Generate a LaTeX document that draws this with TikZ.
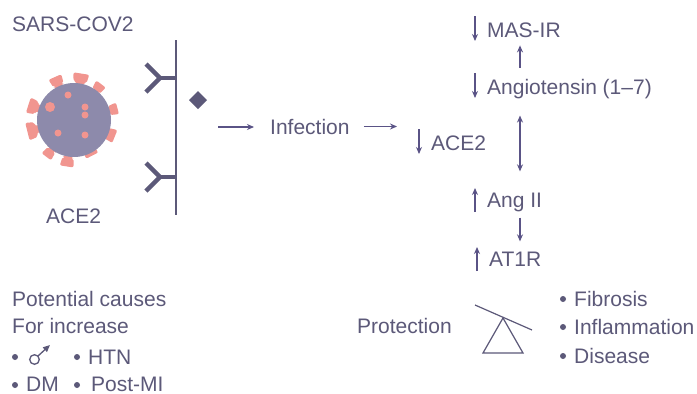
\documentclass[tikz,border=0pt]{standalone}
\usepackage{fontspec}
\setmainfont{Liberation Sans}
\usetikzlibrary{arrows.meta,calc}
\definecolor{ink}{HTML}{5C5979}
\definecolor{arrowink}{HTML}{5A5386}
\definecolor{virusbody}{HTML}{8D8AAB}
\definecolor{spike}{HTML}{F1958F}
\tikzset{
  lbl/.style={anchor=base west, inner sep=0pt, text=ink, font=\fontsize{21}{25}\selectfont},
  arr/.style={draw=arrowink, line width=1.6pt, -{Stealth[length=7pt,width=6pt]}},
  receptor/.style={draw=ink, line width=4.5pt},
  bullet/.style={fill=ink},
}
% small up/down marks left of a label
\def\dnmark#1{\draw[arr] ([shift={(-12pt,21pt)}]#1.base west) -- ([shift={(-12pt,-4pt)}]#1.base west);}
\def\upmark#1{\draw[arr] ([shift={(-12pt,-5pt)}]#1.base west) -- ([shift={(-12pt,19pt)}]#1.base west);}

\begin{document}
\begin{tikzpicture}[x=1pt,y=-1pt]
  %%%%% START %%%%%
  \fill[white] (0,0) rectangle (697,394);
  \useasboundingbox (0,0) rectangle (697,394);

  % virus
  \foreach \a/\w/\l in {114/7/47, 81/8/47, 53/6/45, 162/8/48, 15/6/45, 194/9/48, 338/7/44, 233/6/46, 297/7/40, 261/7/47}{
    \begin{scope}[shift={(74,120)}, rotate=\a]
      \fill[spike, rounded corners=2pt] (28,-3.5) -- (\l-9,-3.5) -- (\l-9,-\w+1.5) -- (\l,-\w)
        -- (\l,\w) -- (\l-9,\w-1.5) -- (\l-9,3.5) -- (28,3.5) -- cycle;
    \end{scope}
  }
  \fill[virusbody] (74,120) circle (37);
  \foreach \x/\y/\r in {68/95/3.5, 50/107/5, 85/107/3.5, 85/115/3.5, 58/133/3.5, 85/135/3.5}
    \fill[spike] (\x,\y) circle (\r);

  \node[lbl] (sars) at (12,31) {SARS-COV2};
  \node[lbl] (ace2cell) at (46,223) {ACE2};

  % membrane and receptors
  \draw[draw=ink, line width=2pt] (176,40) -- (176,215);
  \foreach \y in {78,177}{
    \draw[receptor] (176,\y) -- (160,\y);
    \draw[receptor] (146,\y-14) -- (160,\y) -- (146,\y+14);
  }
  \fill[ink] (198,91) -- (207,100) -- (198,109) -- (189,100) -- cycle;

  % infection path
  \node[lbl] (infection) at (270,134) {Infection};
  \node[lbl] (ace2) at (431,150) {ACE2};
  \coordinate (entry) at (218,127);
  \draw[arr, shorten >=16pt] (entry) -- (entry -| infection.west);
  \draw[arr, shorten <=14pt, shorten >=34pt] (infection.east) -- (infection.east -| ace2.west);
  \dnmark{ace2}

  % renin-angiotensin column
  \coordinate (colx) at (520,0);
  \node[lbl] (mas) at (487,37) {MAS-IR};
  \node[lbl] (angio) at (487,94) {Angiotensin (1–7)};
  \node[lbl] (angii) at (487,207) {Ang II};
  \node[lbl] (at1r) at (489,266) {AT1R};
  \dnmark{mas}
  \dnmark{angio}
  \upmark{angii}
  \upmark{at1r}
  \draw[arr, shorten <=11pt, shorten >=8pt] (angio.north -| colx) -- (mas.south -| colx);
  \draw[arr, {Stealth[length=7pt,width=6pt]}-{Stealth[length=7pt,width=6pt]}, shorten <=17pt, shorten >=21pt]
    (angio.south -| colx) -- (angii.north -| colx);
  \draw[arr, shorten <=6pt, shorten >=10pt] (angii.south -| colx) -- (at1r.north -| colx);

  % causes
  \node[lbl] (causes) at (12,306) {Potential causes};
  \node[lbl] (increase) at (12,333) {For increase};
  \foreach \x/\y in {15/357, 77/357, 15/385, 77/385}
    \fill[bullet] (\x,\y) circle (3);
  \draw[ink, line width=1.3pt] (34.5,359.5) circle (4.8);
  \draw[ink, line width=1.3pt, -{Triangle[length=7pt,width=6pt]}] (38,356) -- (50,345);
  \node[lbl] (htn) at (88,364) {HTN};
  \node[lbl] (dm) at (26,391) {DM};
  \node[lbl] (postmi) at (91,391) {Post-MI};

  % balance
  \node[lbl] (protection) at (357,333) {Protection};
  \draw[ink, line width=1.2pt] (475,305) -- (532,330);
  \draw[ink, line width=1.2pt] (503,318) -- (483,353) -- (523,353) -- cycle;
  \foreach \y in {299,327,356}
    \fill[bullet] (563,\y) circle (3);
  \node[lbl] (fibrosis) at (574,306) {Fibrosis};
  \node[lbl] (inflammation) at (574,334) {Inflammation};
  \node[lbl] (disease) at (574,363) {Disease};
  %%%%% END %%%%%
\end{tikzpicture}
\end{document}
